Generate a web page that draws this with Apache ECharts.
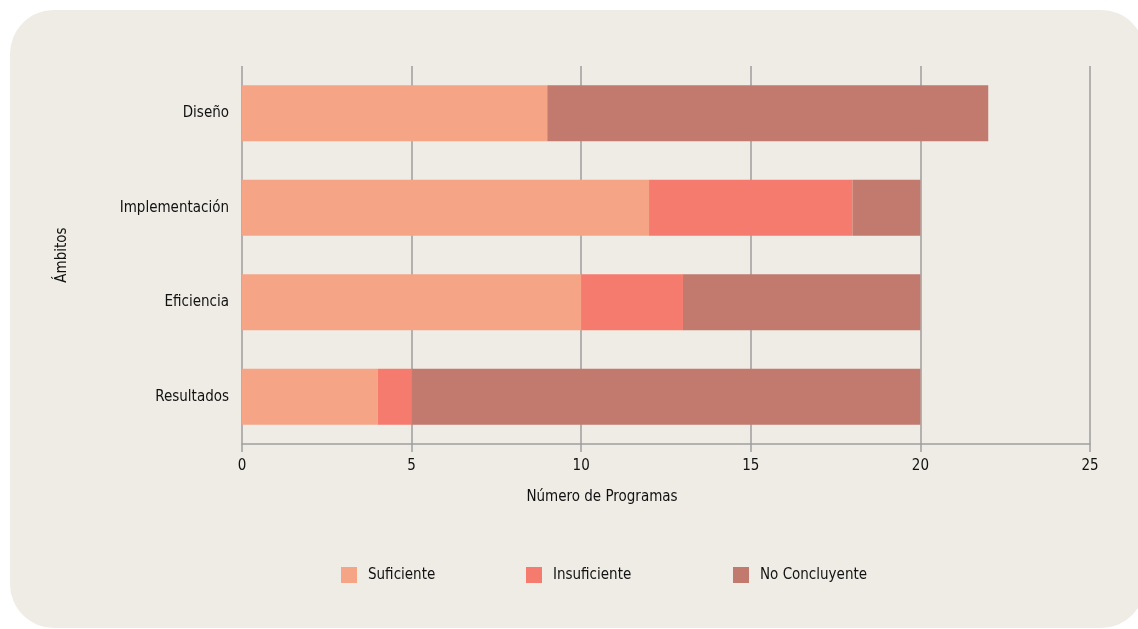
<!DOCTYPE html>
<html>
<head>
<meta charset="utf-8">
<script src="https://cdn.jsdelivr.net/npm/echarts@6/dist/echarts.min.js"></script>
<style>
html,body{margin:0;padding:0;background:#ffffff;}
#c{width:1138px;height:629px;}
</style>
</head>
<body>
<div id="c"></div>
<script>
const categories = ['Diseño', 'Implementación', 'Eficiencia', 'Resultados'];
const seriesNames = ['Suficiente', 'Insuficiente', 'No Concluyente'];
const suficiente = [9, 12, 10, 4];
const insuficiente = [0, 6, 3, 1];
const noConcluyente = [13, 2, 7, 15];
const xTicks = [0, 5, 10, 15, 20, 25];

const colors = ['#F5A586', '#F57B6E', '#C27A6E'];
const FONT = '"Liberation Sans Narrow", "DejaVu Sans Condensed", "Arial Narrow", sans-serif';
const textColor = '#111111';
const gridColor = '#9e9e9e';
const FW = 'normal';
const FS = 15;

const chart = echarts.init(document.getElementById('c'), null, {renderer: 'canvas'});

const seriesData = [suficiente, insuficiente, noConcluyente];
const legendLefts = [341, 526, 733];

const option = {
  backgroundColor: 'transparent',
  animation: false,
  textStyle: {fontFamily: FONT},
  graphic: [{
    type: 'rect',
    z: -10,
    silent: true,
    shape: {x: 10, y: 10, width: 1135, height: 618, r: 44},
    style: {fill: '#EFECE5'}
  }],
  grid: {left: 242, right: 48, top: 66, bottom: 185, containLabel: false},
  legend: seriesNames.map((n, i) => ({
    data: [n],
    left: legendLefts[i],
    top: 567,
    padding: 0,
    itemWidth: 16,
    itemHeight: 16,
    icon: 'rect',
    textStyle: {fontFamily: FONT, fontSize: FS, fontWeight: FW, color: textColor, padding: [0, 0, 0, 6]}
  })),
  xAxis: {
    type: 'value',
    min: xTicks[0],
    max: xTicks[xTicks.length - 1],
    interval: 5,
    name: 'Número de Programas',
    nameLocation: 'middle',
    nameGap: 46,
    nameTextStyle: {fontFamily: FONT, fontSize: FS, fontWeight: FW, color: textColor, padding: [0, 128, 0, 0]},
    axisLine: {show: true, lineStyle: {color: gridColor, width: 1.5}},
    axisTick: {show: true, length: 8, lineStyle: {color: gridColor, width: 1.5}},
    axisLabel: {fontFamily: FONT, fontSize: FS, fontWeight: FW, color: textColor, margin: 15},
    splitLine: {show: true, lineStyle: {color: gridColor, width: 1.5}}
  },
  yAxis: {
    type: 'category',
    data: categories,
    inverse: true,
    name: 'Ámbitos',
    nameLocation: 'middle',
    nameGap: 172,
    nameRotate: 90,
    nameTextStyle: {fontFamily: FONT, fontSize: FS, fontWeight: FW, color: textColor},
    axisLine: {show: false},
    axisTick: {show: false},
    axisLabel: {fontFamily: FONT, fontSize: FS, fontWeight: FW, color: textColor, margin: 13}
  },
  series: seriesNames.map((n, i) => ({
    name: n,
    type: 'bar',
    stack: 'total',
    barWidth: 56,
    itemStyle: {color: colors[i]},
    data: seriesData[i]
  }))
};
chart.setOption(option);
</script>
</body>
</html>
